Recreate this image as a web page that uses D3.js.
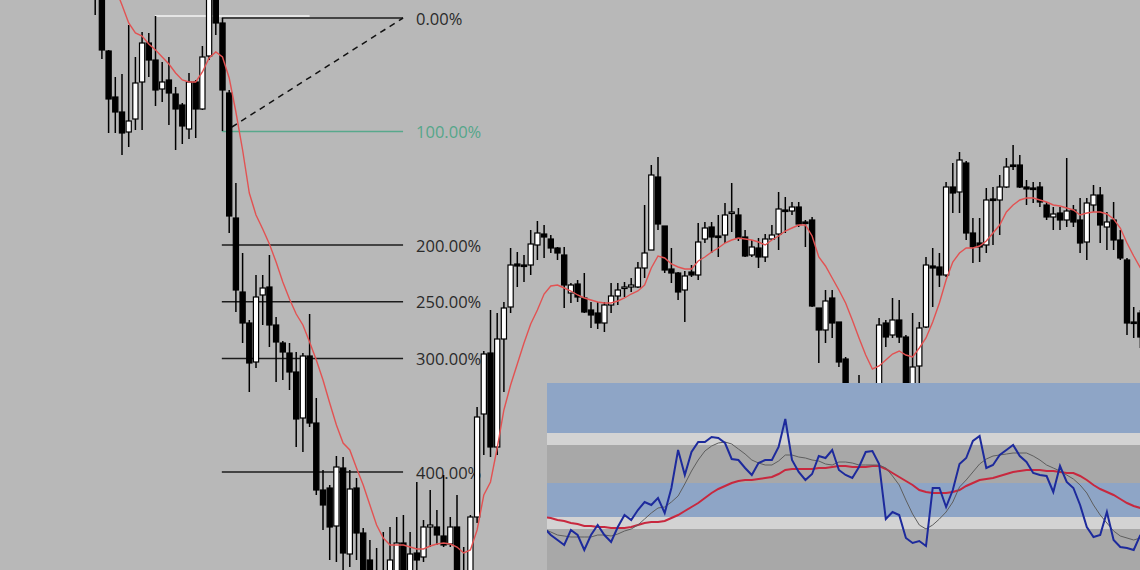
<!DOCTYPE html>
<html><head><meta charset="utf-8">
<script src="https://cdn.jsdelivr.net/npm/d3@7"></script>
<style>html,body{margin:0;padding:0;background:#b8b8b8;overflow:hidden}</style>
</head><body><svg id="c" width="1140" height="570"></svg>
<script>
// ---------- DATA ----------
const opens = [2030,2008,1949,1903,1888,1868,1881,1918,1957,1940,1911,1920,1906,1895,1871,1918,1891,1944,2003,1977,
1907,1782,1708,1677,1638,1705,1713,1675,1657,1647,1628,1582,1644,1577,1510,1512,1474,1532,1446,1512,
1467,1440,1425,1410,1415,1410,1457,1420,1447,1443,1473,1473,1464,1456,1473,1425,1415,1483,1586,1647,
1553,1661,1693,1736,1735,1735,1755,1766,1761,1752,1745,1707,1716,1702,1690,1687,1677,1695,1704,1712,
1713,1713,1732,1750,1823,1774,1731,1727,1710,1728,1725,1761,1773,1764,1765,1787,1785,1763,1745,1752,
1743,1761,1766,1790,1789,1793,1778,1780,1692,1670,1702,1678,1641,1608,1590,1602,1600,1608,1677,1665,
1680,1663,1605,1634,1673,1734,1733,1725,1813,1808,1837,1767,1757,1755,1801,1800,1813,1835,1835,1813,
1812,1813,1795,1783,1787,1780,1790,1780,1758,1795,1805,1773,1780,1760,1740,1678,1687];
const highs = [2040,2015,1950,1923,1926,1975,1943,1968,1967,1984,1938,1943,1913,1897,1927,1920,1954,2020,2010,1982,
1910,1817,1747,1680,1725,1725,1745,1683,1659,1657,1648,1647,1686,1602,1530,1515,1544,1543,1530,1522,
1472,1460,1452,1468,1473,1483,1485,1468,1518,1480,1510,1490,1525,1483,1505,1453,1485,1593,1649,1690,
1687,1698,1752,1748,1745,1770,1779,1775,1765,1753,1753,1717,1720,1727,1698,1698,1698,1717,1717,1718,
1722,1738,1795,1835,1843,1774,1752,1728,1729,1735,1777,1778,1778,1785,1797,1817,1792,1770,1760,1762,
1766,1775,1808,1803,1798,1798,1780,1783,1692,1710,1710,1678,1643,1612,1625,1610,1614,1682,1680,1702,
1700,1665,1687,1678,1743,1752,1747,1818,1837,1848,1839,1782,1782,1812,1813,1825,1842,1855,1845,1820,
1818,1818,1798,1793,1793,1842,1795,1802,1802,1815,1813,1788,1798,1770,1742,1693,1690];
const lows = [1985,1941,1867,1867,1845,1853,1870,1870,1923,1894,1898,1875,1850,1856,1861,1862,1890,1940,1965,1869,
1767,1688,1657,1608,1632,1675,1653,1618,1620,1610,1553,1548,1573,1505,1470,1440,1438,1425,1433,1440,
1415,1400,1400,1400,1400,1400,1410,1410,1425,1438,1453,1455,1453,1453,1410,1400,1405,1477,1545,1543,
1545,1608,1687,1713,1718,1725,1740,1742,1747,1740,1692,1697,1698,1687,1672,1671,1668,1687,1695,1703,
1708,1712,1722,1750,1770,1727,1717,1700,1678,1723,1720,1757,1747,1743,1757,1768,1759,1743,1743,1732,
1738,1760,1750,1767,1785,1773,1753,1693,1637,1657,1662,1633,1600,1585,1585,1580,1590,1605,1653,1662,
1657,1600,1600,1610,1672,1693,1713,1723,1787,1787,1760,1737,1738,1747,1755,1765,1812,1830,1812,1795,
1797,1793,1780,1770,1770,1773,1773,1747,1740,1788,1757,1750,1750,1740,1665,1662,1652];
const closes = [2005,1950,1901,1888,1867,1879,1917,1957,1940,1910,1918,1907,1891,1874,1918,1891,1943,2005,1977,1910,
1784,1710,1677,1637,1703,1712,1675,1658,1648,1628,1581,1644,1577,1510,1495,1473,1533,1447,1511,1467,
1425,1410,1410,1428,1440,1457,1420,1446,1440,1473,1475,1465,1455,1473,1420,1410,1483,1583,1646,1553,
1661,1692,1735,1734,1734,1756,1767,1763,1752,1747,1715,1715,1703,1688,1685,1677,1695,1704,1710,1713,
1715,1732,1747,1825,1776,1730,1727,1708,1724,1725,1758,1772,1763,1763,1785,1788,1762,1744,1753,1743,
1761,1765,1791,1789,1793,1776,1777,1694,1670,1699,1677,1638,1608,1590,1605,1595,1608,1675,1663,1680,
1663,1605,1633,1672,1735,1732,1725,1813,1807,1840,1767,1753,1753,1800,1800,1813,1833,1834,1813,1811,
1811,1798,1783,1786,1780,1789,1778,1757,1797,1805,1775,1778,1760,1742,1677,1677,1663];
const maValues = [2060,2045,2030,2012,1995,1977,1967,1964,1956,1950,1943,1936,1927,1920,1918,1918,1928,1942,1948,1943,
1922,1888,1850,1807,1785,1771,1756,1738,1718,1701,1686,1675,1658,1640,1620,1597,1575,1557,1550,1532,
1515,1495,1475,1462,1455,1455,1455,1453,1451,1451,1454,1456,1457,1456,1453,1447,1450,1470,1505,1518,
1552,1590,1615,1636,1657,1676,1690,1706,1714,1715,1712,1709,1705,1702,1700,1698,1697,1697,1699,1702,
1706,1709,1715,1732,1744,1742,1736,1733,1731,1731,1739,1743,1748,1752,1757,1760,1762,1761,1760,1758,
1755,1760,1764,1769,1772,1775,1775,1764,1743,1734,1722,1710,1697,1680,1662,1645,1631,1634,1640,1646,
1649,1645,1643,1652,1662,1678,1697,1720,1738,1747,1752,1752,1754,1759,1767,1775,1788,1795,1800,1802,
1802,1800,1798,1795,1794,1792,1790,1785,1787,1788,1788,1786,1781,1772,1757,1744,1732];

// Fibonacci extension
const fibLevels = [0, 1, 2, 2.5, 3, 4];
const fibLabels = ["0.00%", "100.00%", "200.00%", "250.00%", "300.00%", "400.00%"];
const fibHigh = 1982, fibLow = 1868.5;
const fibStartBar = 18.9, fibEndBar = 45.95;
const trendLine = [{bar: 20.4, price: 1873}, {bar: 45.95, price: 1982}];
const highMarker = [{bar: 8.9, price: 1984}, {bar: 32.0, price: 1984}];

// Oscillator panel (bars 67..156)
const oscStart = 67;
const oscFast = [21,17.5,15,12.5,20,17.5,10,17.5,22.5,17.5,14,21.5,27.5,25,30,34,32.5,36,28.5,41,
60,47.5,59,64,64,66.5,66,63.5,55.5,55,51,47.5,53.5,55,55,61.5,75.5,55,49,45,
48,57,56,60,50,47.5,46,51.5,59,59.5,53,25.5,29,27.5,16,13.5,14.5,12,41,41,
31.5,40,53,56,64.5,67,51,52.5,57.5,60,62.5,57,54,48.5,47.5,47,39,52,44,41,
32.5,21.5,16.5,17.5,29,15,11.5,11,10,17.5];
const oscSignal = [20.5,19,17.5,17,16.5,16.5,16.5,16.5,17.5,17.5,17,18,19.5,20.5,22.5,25.5,28.5,31,31.5,34,
37,43,49.5,55,59.5,62,63.5,64,63,60.5,58,55,53.5,52.5,52.5,54.5,57.5,57.5,56.5,56,
55,54.5,53,52.5,54,54,53.5,52.5,52.5,52.5,52.5,51,47,42.5,35,28,22.5,20.5,22.5,25.5,
29,34,41.5,45,49,53,55.5,57,57.5,58,58.5,58.5,58.5,57,55,52.5,51,49.5,47.5,45.5,
42.5,38.5,32.5,27.5,23.5,19.5,17,16,15,16];
const oscSlow = [26.5,26,25,24.5,23.5,23,22,22,21.5,21.5,21,21,21,21.5,22.5,23.5,24,24,24.5,26,
27.5,29.5,31.5,33.5,36,38.5,40.5,42,43.5,44.5,45,45,45.5,46,46.5,48,50,50.5,50.5,50.5,
50.5,51,51,51.5,52,52,51.5,51.5,51.5,52,52,50.5,48.5,46.5,44.5,42.5,40,39,38.5,38.5,
38.5,39,40,42,43.5,45,45.5,46,47,48,49,49.5,50,50,50,49.5,49.5,49,48.5,48.5,
47,45,42.5,40.5,39,37.5,35.5,33.5,32,31];
const oscBandLevels = [93.5, 68.5, 62.5, 43.5, 26.5, 20.5, 0];

// ---------- STYLE / LAYOUT ----------
const W = 1140, H = 570;
const bandColors = ["#8ea5c6", "#d3d3d3", "#a8a8a8", "#8ea5c6", "#d3d3d3", "#a8a8a8"];
const svg = d3.select("#c");
const bars = d3.range(opens.length);

const x = d3.scaleLinear().domain([0, 156]).range([95.2, 1140.4]);
const y = d3.scaleLinear().domain([2000, 1430]).range([0, 570]);

svg.append("rect").attr("width", W).attr("height", H).attr("fill", "#b8b8b8");

// Fib lines & labels (under candles)
const fib = svg.append("g");
fibLevels.forEach((lv, k) => {
  const p = fibHigh - lv * (fibHigh - fibLow);
  const col = lv === 1 ? "#58a88c" : "#1c1c1c";
  fib.append("line")
    .attr("x1", x(fibStartBar)).attr("x2", x(fibEndBar))
    .attr("y1", y(p)).attr("y2", y(p))
    .attr("stroke", col).attr("stroke-width", 1.3);
  fib.append("text")
    .attr("x", x(fibEndBar) + 13).attr("y", y(p) + 6.5)
    .attr("font-family", "Open Sans, Noto Sans, sans-serif")
    .attr("font-size", 16.5)
    .attr("fill", lv === 1 ? "#55a68a" : "#2a2a2a")
    .text(fibLabels[k]);
});

// white high marker line
svg.append("line")
  .attr("x1", x(highMarker[0].bar)).attr("x2", x(highMarker[1].bar))
  .attr("y1", y(highMarker[0].price)).attr("y2", y(highMarker[1].price))
  .attr("stroke", "#f4f4f4").attr("stroke-width", 1.5);

// dashed trend line
svg.append("line")
  .attr("x1", x(trendLine[0].bar)).attr("y1", y(trendLine[0].price))
  .attr("x2", x(trendLine[1].bar)).attr("y2", y(trendLine[1].price))
  .attr("stroke", "#111").attr("stroke-width", 1.5).attr("stroke-dasharray", "6,5");

// Candles
const bw = 5.2;
const cg = svg.append("g");
cg.selectAll("line.w").data(bars).join("line")
  .attr("x1", i => x(i)).attr("x2", i => x(i))
  .attr("y1", i => y(highs[i])).attr("y2", i => y(lows[i]))
  .attr("stroke", "#000").attr("stroke-width", 1.5);
cg.selectAll("rect.b").data(bars).join("rect")
  .attr("x", i => x(i) - bw / 2)
  .attr("y", i => y(Math.max(opens[i], closes[i])))
  .attr("width", bw)
  .attr("height", i => Math.max(1.5, Math.abs(y(opens[i]) - y(closes[i]))))
  .attr("fill", i => closes[i] > opens[i] ? "#ffffff" : "#000000")
  .attr("stroke", "#000").attr("stroke-width", 1.2);

// Moving average
svg.append("path")
  .datum(bars)
  .attr("d", d3.line().x(i => x(i)).y(i => y(maValues[i])))
  .attr("fill", "none").attr("stroke", "#e25252").attr("stroke-width", 1.4);

// ---------- Oscillator inset ----------
const px0 = 547, py0 = 383;
const oy = d3.scaleLinear().domain([0, 100]).range([570, 370]);
const inset = svg.append("g");
svg.append("clipPath").attr("id", "clipOsc").append("rect")
  .attr("x", px0).attr("y", py0).attr("width", W - px0).attr("height", H - py0);
for (let k = 0; k < oscBandLevels.length - 1; k++) {
  inset.append("rect")
    .attr("x", px0).attr("width", W - px0)
    .attr("y", oy(oscBandLevels[k]))
    .attr("height", oy(oscBandLevels[k + 1]) - oy(oscBandLevels[k]))
    .attr("fill", bandColors[k]);
}
const og = inset.append("g").attr("clip-path", "url(#clipOsc)");
const oline = arr => d3.line().x((d, j) => x(oscStart + j)).y(d => oy(d))(arr);
og.append("path").attr("d", oline(oscSlow)).attr("fill", "none")
  .attr("stroke", "#c8283e").attr("stroke-width", 2);
og.append("path").attr("d", oline(oscSignal)).attr("fill", "none")
  .attr("stroke", "#5e5e5e").attr("stroke-width", 1);
og.append("path").attr("d", oline(oscFast)).attr("fill", "none")
  .attr("stroke", "#1d2a9c").attr("stroke-width", 2);
</script></body></html>
